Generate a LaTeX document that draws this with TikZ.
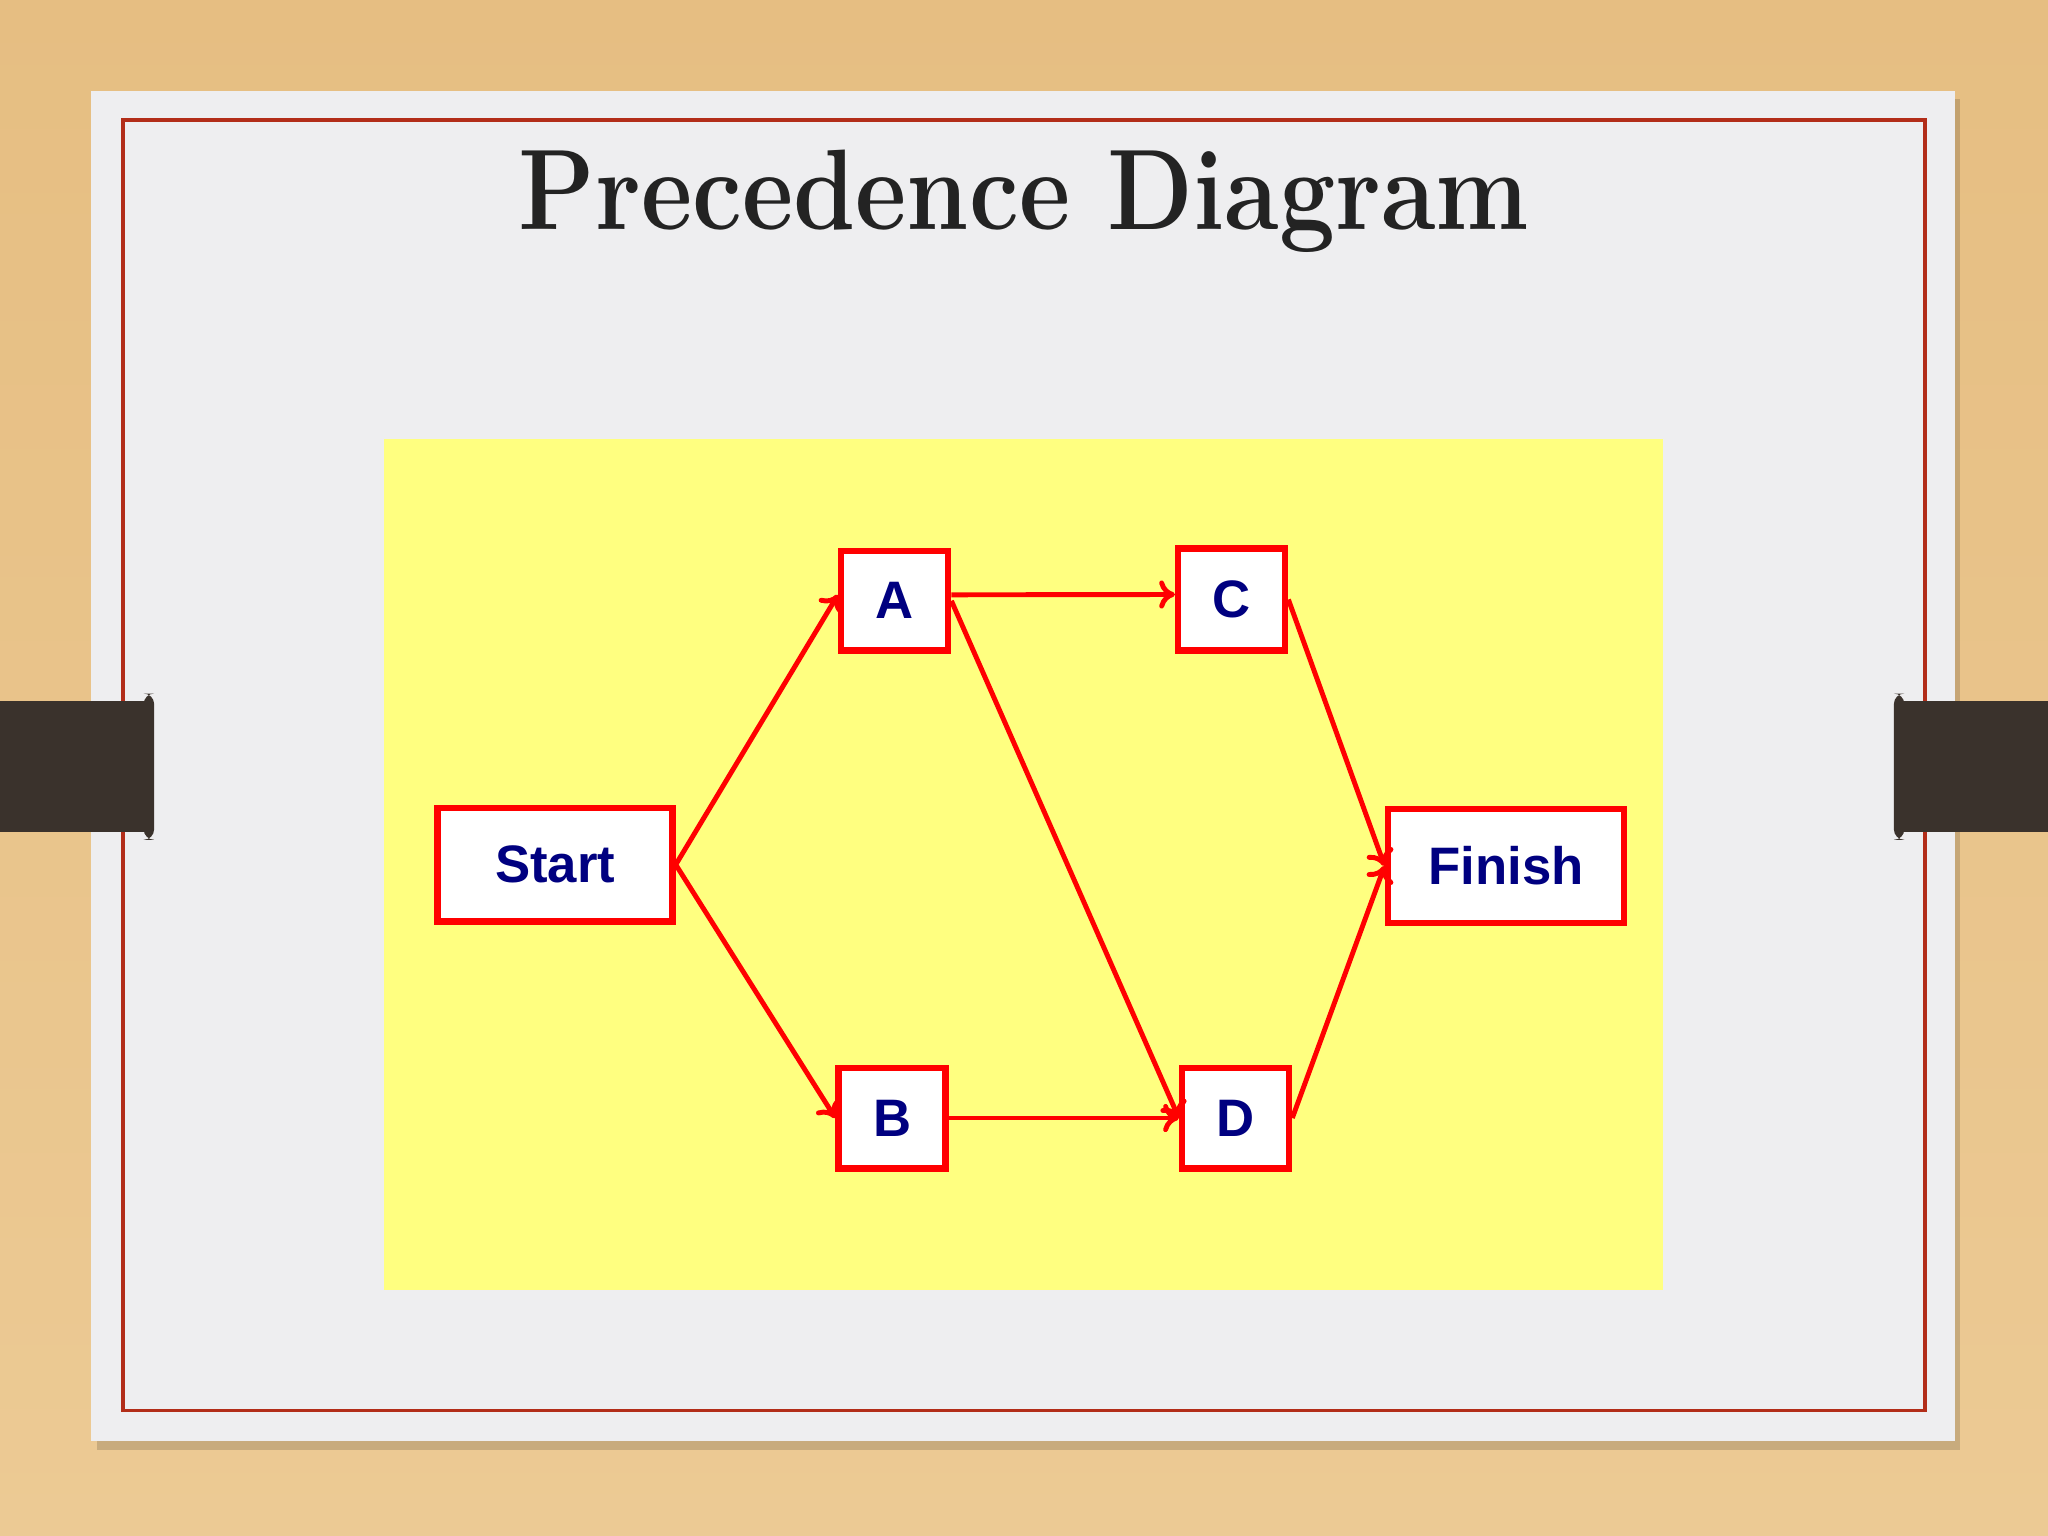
\documentclass[tikz,border=0pt]{standalone}
\usepackage{fontspec}
\newfontfamily\boxfont{Liberation Sans}
\usetikzlibrary{arrows.meta}
\definecolor{wood}{RGB}{236,202,148}
\definecolor{woodtop}{RGB}{230,190,130}
\definecolor{slidecol}{RGB}{238,238,240}
\definecolor{framecol}{RGB}{178,45,25}
\definecolor{clipcol}{RGB}{58,50,44}
\definecolor{paper}{RGB}{255,255,128}
\definecolor{boxred}{RGB}{255,0,0}
\definecolor{navy}{RGB}{0,0,128}
\definecolor{titlecol}{RGB}{35,35,35}
\tikzset{
  pbox/.style={draw=boxred, line width=1.8pt, fill=white, inner sep=0pt,
    font=\boxfont\bfseries\fontsize{15}{18}\selectfont, text=navy},
  conn/.style={draw=boxred, line width=1.4pt, -{To[length=4.5pt,width=8pt]}},
}
\begin{document}
\begin{tikzpicture}[x=0.013061cm,y=-0.013061cm]
\useasboundingbox (0,0) rectangle (1568,1176);
% wood background
\shade[top color=woodtop, bottom color=wood] (0,0) rectangle (1568,1176);
% slide shadow
\fill[black, opacity=0.15] (74,76) rectangle (1501,1110);
% slide
\fill[slidecol] (70,70) rectangle (1497,1103);
% inner frame
\draw[framecol, line width=1pt] (94,92) rectangle (1474,1080);
% clips
\fill[clipcol] (0,537) rectangle (117,637);
\fill[clipcol, rounded corners=3pt] (110,531) rectangle (118,643);
\fill[clipcol] (1451,537) rectangle (1568,637);
\fill[clipcol, rounded corners=3pt] (1450,531) rectangle (1458,643);
% title
\node[anchor=base, text=titlecol, font=\fontsize{32.6}{38}\selectfont\bfseries, inner sep=0pt, xscale=0.87] (title) at (784,176) {Precedence Diagram};
% yellow panel
\fill[paper] (294,336) rectangle (1273,988);
% boxes
\node[pbox, minimum width=2.35cm, minimum height=1.136cm] (S) at (425,662) {Start};
\node[pbox, minimum width=1.071cm, minimum height=0.993cm] (A) at (685,460) {A};
\node[pbox, minimum width=1.071cm, minimum height=1.019cm] (C) at (943,459) {C};
\node[pbox, minimum width=1.071cm, minimum height=1.006cm] (B) at (683,856) {B};
\node[pbox, minimum width=1.071cm, minimum height=1.006cm] (D) at (946,856) {D};
\node[pbox, minimum width=2.364cm, minimum height=1.136cm] (F) at (1153,663) {Finish};
% connectors
\draw[conn] (S.east) -- ([yshift=0.06cm]A.west);
\draw[conn] (S.east) -- (B.west);
\draw[conn] ([yshift=0.06cm]A.east) -- ([yshift=0.05cm]C.west);
\draw[conn] (A.east) -- (D.west);
\draw[conn] (B.east) -- (D.west);
\draw[conn] (C.east) -- (F.west);
\draw[conn] (D.east) -- (F.west);
\end{tikzpicture}
\end{document}
